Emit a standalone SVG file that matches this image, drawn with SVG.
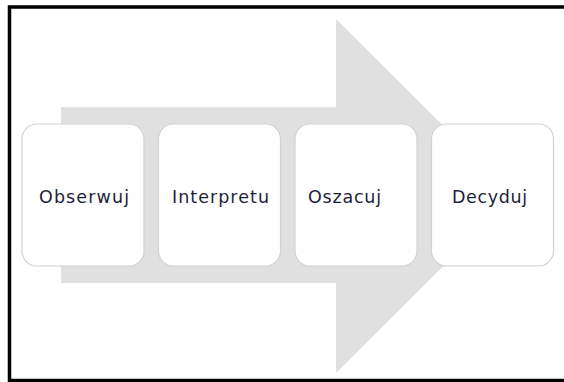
<svg xmlns="http://www.w3.org/2000/svg" width="564" height="382" viewBox="0 0 564 382">
<style>
.box{fill:#ffffff;stroke:#d2d2d2;stroke-width:1.2}
.lbl{font-family:"DejaVu Sans","Open Sans",sans-serif;font-size:17.5px;fill:#1e1e3c}
</style>
<rect x="0" y="0" width="564" height="382" fill="#ffffff"/>
<path d="M564 7 H9.5 V380.5 H564" fill="none" stroke="#000000" stroke-width="3.5"/>
<polygon id="arrow" points="61,107 336,107 336,19 514,196 336,373 336,283 61,283" fill="#e0e0e0"/>
<g id="connectors"></g>
<g id="node1"><rect class="box" x="22" y="124" width="122" height="142" rx="15"/><text class="lbl" x="84" y="203" text-anchor="middle" textLength="90">Obserwuj</text></g>
<g id="node2"><rect class="box" x="158.5" y="124" width="122" height="142" rx="15"/><text class="lbl" x="220.5" y="203" text-anchor="middle" textLength="97">Interpretu</text></g>
<g id="node3"><rect class="box" x="295" y="124" width="122" height="142" rx="15"/><text class="lbl" x="308" y="203" textLength="73">Oszacuj</text></g>
<g id="node4"><rect class="box" x="431.5" y="124" width="122" height="142" rx="15"/><text class="lbl" x="489.5" y="203" text-anchor="middle" textLength="75">Decyduj</text></g>
</svg>
